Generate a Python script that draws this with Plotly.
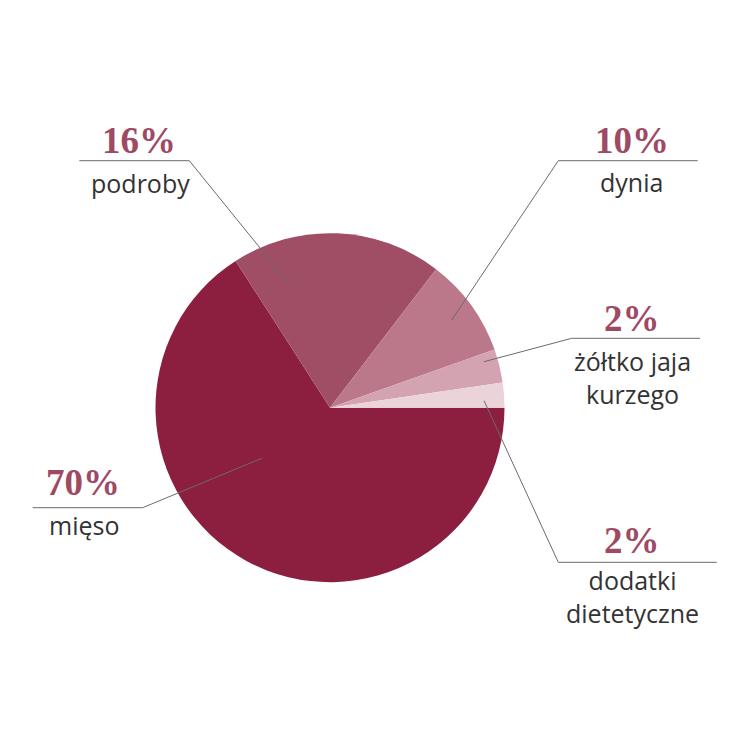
import plotly.graph_objects as go

# Dane wykresu (wielkości wycinków)
kategorie = ["mięso", "podroby", "dynia", "żółtko jaja<br>kurzego", "dodatki<br>dietetyczne"]
wartosci = [65.9, 19.5, 9.2, 3.1, 2.3]
procenty = ["70%", "16%", "10%", "2%", "2%"]
kolory = ["#8C1F3F", "#A04D66", "#BB788B", "#D3A3B1", "#EAD3D9"]

OFF = 8  # margines strony w przeglądarce
W = H = 750 - OFF
cx, cy, r = 330, 407.7, 174.5


def px(x):
    return (x - OFF) / W


def py(y):
    return 1 - (y - OFF) / H


fig = go.Figure()

fig.add_trace(go.Pie(
    labels=kategorie,
    values=wartosci,
    sort=False,
    direction="clockwise",
    rotation=90,
    marker=dict(colors=kolory, line=dict(width=0)),
    textinfo="none",
    hoverinfo="label+percent",
    showlegend=False,
    domain=dict(x=[px(cx - r), px(cx + r)], y=[py(cy + r), py(cy - r)]),
))

# linie odniesienia: (punkt w wycinku, załamanie, koniec poziomej linii)
linie = [
    [(261.7, 458.3), (142.7, 507.7), (32.7, 507.7)],
    [(290, 285), (189.3, 160.7), (79.3, 160.7)],
    [(451.7, 320), (558.3, 160.7), (697.7, 160.7)],
    [(484, 361.7), (571.7, 338.3), (700, 338.3)],
    [(484, 400.7), (558.3, 562.3), (716.7, 562.3)],
]
for pts in linie:
    path = "M " + " L ".join(f"{px(x)} {py(y)}" for x, y in pts)
    fig.add_shape(type="path", path=path, xref="paper", yref="paper",
                  line=dict(color="#6b6b6b", width=1))

# pozycje podpisów: (środek procentu, środek pierwszej linii nazwy)
pozycje = [
    ((83, 482), (84, 525)),
    ((139, 140), (140, 183)),
    ((632, 140), (631, 182)),
    ((632, 319), (632, 363)),
    ((632, 540), (632, 582)),
]
for kat, pct, (pp, pn) in zip(kategorie, procenty, pozycje):
    fig.add_annotation(x=px(pp[0]), y=py(pp[1]), xref="paper", yref="paper",
                       text=f"<b>{pct}</b>", showarrow=False, xanchor="center", yanchor="middle",
                       font=dict(family="Liberation Serif", size=37, color="#9E4A64"))
    n = kat.count("<br>")
    fig.add_annotation(x=px(pn[0]), y=py(pn[1] + n * 14), xref="paper", yref="paper",
                       text=kat, showarrow=False, xanchor="center", yanchor="middle",
                       align="center", borderpad=0,
                       font=dict(family="Open Sans", size=25, color="#333333"))

fig.update_layout(
    width=W, height=H,
    margin=dict(l=0, r=0, t=0, b=0),
    paper_bgcolor="white",
    plot_bgcolor="white",
)

fig.write_html("out.html")
